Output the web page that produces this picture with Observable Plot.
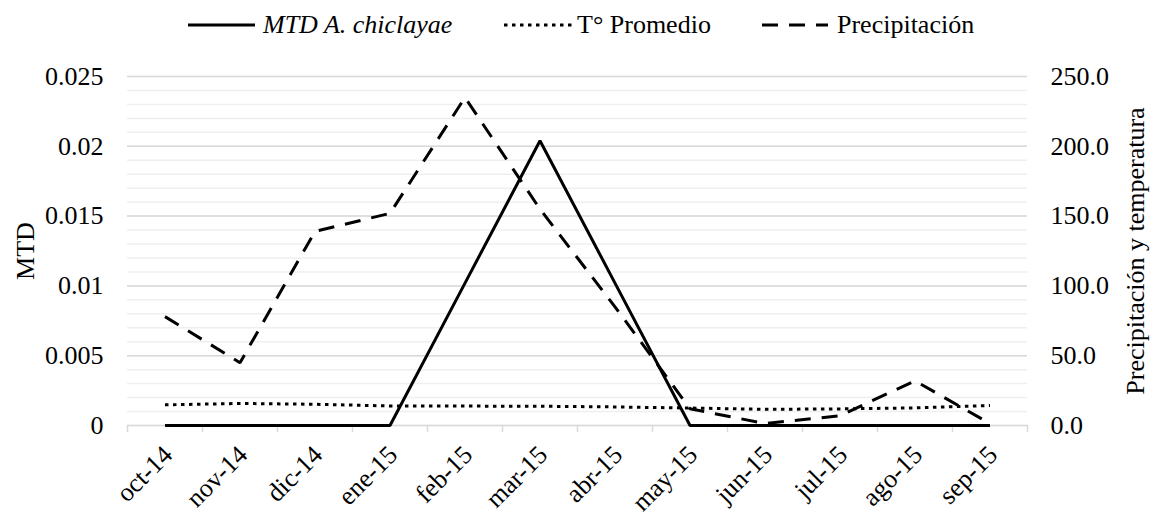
<!DOCTYPE html>
<html>
<head>
<meta charset="utf-8">
<script src="https://cdn.jsdelivr.net/npm/d3@7"></script>
<script src="https://cdn.jsdelivr.net/npm/@observablehq/plot@0.6"></script>
<style>
  body { margin: 0; padding: 0; background: #fff; font-family: "Liberation Serif"; }
  #wrap { position: relative; width: 1153px; height: 514px; font-family: "Liberation Serif"; }
  #legend { position: absolute; top: 8px; left: 0; width: 1153px; height: 34px; font-size: 26px; color: #000; font-family: "Liberation Serif"; }
  .item { position: absolute; top: 0; height: 34px; display: flex; align-items: center; white-space: nowrap; }
</style>
</head>
<body>
<div id="wrap">
  <div id="chart"></div>
  <div id="legend"></div>
</div>
<script>
const months = ["oct-14","nov-14","dic-14","ene-15","feb-15","mar-15","abr-15","may-15","jun-15","jul-15","ago-15","sep-15"];
const mtd = [0, 0, 0, 0, 0.0102, 0.0204, 0.0102, 0, 0, 0, 0, 0];
const tempProm = [14.8, 15.8, 15.2, 14.0, 13.9, 13.8, 13.3, 12.5, 11.6, 11.9, 12.6, 14.3];
const precip = [78, 45, 139, 152, 235, 155, 85, 12, 1.4, 7, 32, 1.4];
const mtdTicks = [0, 0.005, 0.01, 0.015, 0.02, 0.025];
const mtdTickLabels = ["0", "0.005", "0.01", "0.015", "0.02", "0.025"];
const rightTicks = [0, 50, 100, 150, 200, 250];
const rightTickLabels = ["0.0", "50.0", "100.0", "150.0", "200.0", "250.0"];
const seriesNames = ["MTD A. chiclayae", "T° Promedio", "Precipitación"];
const leftTitle = "MTD";
const rightTitle = "Precipitación y temperatura";

const FONT = "Liberation Serif";
const k = 0.025 / 250; // right axis -> left axis factor
const minorTicks = d3.range(0, 26).map(i => i * 0.001);
const bounds = d3.range(13).map(i => i - 0.5);

const chart = Plot.plot({
  width: 1153,
  height: 514,
  marginLeft: 127,
  marginRight: 126,
  marginTop: 76,
  marginBottom: 89,
  style: { fontFamily: FONT, fontSize: "26px", color: "#000", background: "#fff", overflow: "visible" },
  x: { type: "linear", domain: [-0.5, 11.5], axis: null },
  y: { domain: [0, 0.025], axis: null },
  marks: [
    Plot.gridY(minorTicks, { stroke: "#efefef", strokeOpacity: 1, strokeWidth: 1.5 }),
    Plot.gridY(mtdTicks.slice(1), { stroke: "#d9d9d9", strokeOpacity: 1, strokeWidth: 1.5 }),
    Plot.ruleY([0], { stroke: "#d9d9d9", strokeWidth: 1.5 }),
    Plot.axisX({ ticks: bounds, tickSize: 7, tickFormat: () => "", stroke: "#d9d9d9", strokeWidth: 1.5 }),
    Plot.axisX({ ticks: d3.range(12), tickSize: 0, tickPadding: 25, dx: 3, tickRotate: -45,
      tickFormat: i => months[Math.round(i)], fill: "#000", fontFamily: FONT, fontSize: 26 }),
    Plot.axisY({ ticks: mtdTicks, tickSize: 0, tickPadding: 24,
      tickFormat: d => mtdTickLabels[mtdTicks.indexOf(d)], fill: "#000", fontFamily: FONT, fontSize: 26 }),
    Plot.axisY({ anchor: "right", ticks: rightTicks.map(v => v * k), tickSize: 0, tickPadding: 23,
      tickFormat: d => rightTickLabels[rightTicks.indexOf(Math.round(d / k))], fill: "#000", fontFamily: FONT, fontSize: 26 }),
    Plot.text([leftTitle], { frameAnchor: "left", textAnchor: "middle", dx: -102, rotate: -90, fill: "#000", fontFamily: FONT, fontSize: 26 }),
    Plot.text([rightTitle], { frameAnchor: "right", textAnchor: "middle", dx: 108, rotate: -90, fill: "#000", fontFamily: FONT, fontSize: 26 }),
    Plot.lineY(tempProm, { y: d => d * k, stroke: "#000", strokeWidth: 3, strokeDasharray: "3.5,4.5", strokeLinecap: "butt" }),
    Plot.lineY(precip, { y: d => d * k, stroke: "#000", strokeWidth: 3, strokeDasharray: "16,11", strokeLinecap: "butt", strokeLinejoin: "miter" }),
    Plot.lineY(mtd, { stroke: "#000", strokeWidth: 3, strokeLinecap: "butt", strokeLinejoin: "miter" })
  ]
});
document.getElementById("chart").appendChild(chart);

// legend
const legendDefs = [
  { name: seriesNames[0], dash: null, left: 188, w: 67, gap: 8, italic: true },
  { name: seriesNames[1], dash: "3.5,4.5", left: 504, w: 68, gap: 5, italic: false },
  { name: seriesNames[2], dash: "16,11", left: 762, w: 66, gap: 9, italic: false }
];
const legend = d3.select("#legend");
for (const d of legendDefs) {
  const it = legend.append("div").attr("class", "item").style("left", d.left + "px");
  const s = it.append("svg").attr("width", d.w).attr("height", 6).style("margin-right", d.gap + "px");
  s.append("line").attr("x1", 0).attr("x2", d.w).attr("y1", 3).attr("y2", 3)
    .attr("stroke", "#000").attr("stroke-width", 3)
    .attr("stroke-dasharray", d.dash);
  it.append("span").style("font-family", "'Liberation Serif'")
    .style("font-style", d.italic ? "italic" : "normal").text(d.name);
}
</script>
</body>
</html>
